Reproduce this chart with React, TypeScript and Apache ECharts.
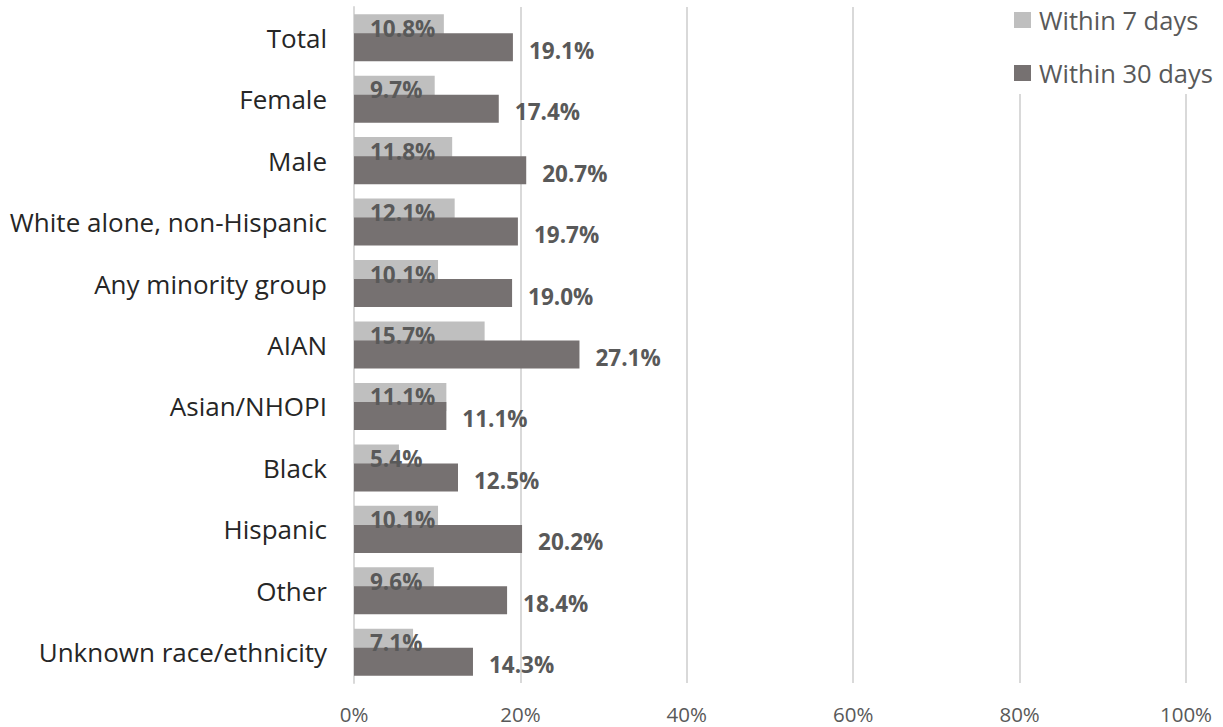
import React, { useEffect, useRef } from "react";
import * as echarts from "echarts";

const categories = [
  "Total",
  "Female",
  "Male",
  "White alone, non-Hispanic",
  "Any minority group",
  "AIAN",
  "Asian/NHOPI",
  "Black",
  "Hispanic",
  "Other",
  "Unknown race/ethnicity",
];
const within7 = [10.8, 9.7, 11.8, 12.1, 10.1, 15.7, 11.1, 5.4, 10.1, 9.6, 7.1];
const within30 = [19.1, 17.4, 20.7, 19.7, 19.0, 27.1, 11.1, 12.5, 20.2, 18.4, 14.3];
const seriesNames = ["Within 7 days", "Within 30 days"];
const xTicks = { min: 0, max: 100, interval: 20 };

const FONT = "'Open Sans', sans-serif";
const LIGHT = "#bfbfbf";
const DARK = "#767171";

const pct = (p: any) => Number(p.value).toFixed(1) + "%";

const valueLabel = {
  show: true,
  formatter: pct,
  color: "#595959",
  fontWeight: "bold",
  fontSize: 22.5,
  fontFamily: FONT,
};

export default function App() {
  const ref = useRef<HTMLDivElement>(null);
  useEffect(() => {
    if (!ref.current) return;
    const chart = echarts.init(ref.current, null, { renderer: "svg" });
    const barCommon = { type: "bar", barWidth: 28, barGap: "-32%" };
    chart.setOption({
      animation: false,
      textStyle: { fontFamily: FONT },
      legend: {
        orient: "vertical",
        left: 1004,
        top: 0,
        itemWidth: 17,
        itemHeight: 16,
        itemGap: 23,
        icon: "rect",
        backgroundColor: "#ffffff",
        padding: [5, 40, 6, 10],
        textStyle: {
          fontFamily: FONT,
          fontSize: 25.5,
          lineHeight: 30,
          color: "#595959",
          padding: [0, 0, 0, 3],
        },
        data: seriesNames,
      },
      grid: { left: 354, right: 37, top: 7, bottom: 44, containLabel: false },
      xAxis: [
        {
          type: "value",
          ...xTicks,
          axisLine: { show: false },
          axisTick: { show: false },
          splitLine: { show: true, lineStyle: { color: "#d9d9d9", width: 2 } },
          axisLabel: {
            formatter: "{value}%",
            color: "#595959",
            fontSize: 20.5,
            fontFamily: FONT,
            margin: 20,
          },
        },
        {
          type: "value",
          ...xTicks,
          show: false,
          splitLine: { show: false },
        },
      ],
      yAxis: [
        {
          type: "category",
          inverse: true,
          data: categories,
          axisLine: { show: true, lineStyle: { color: "#d9d9d9", width: 2 } },
          axisTick: { show: false },
          axisLabel: {
            color: "#262626",
            fontSize: 26,
            fontFamily: FONT,
            margin: 27,
          },
        },
        {
          type: "category",
          inverse: true,
          data: categories,
          show: false,
        },
      ],
      series: [
        {
          ...barCommon,
          name: seriesNames[0],
          data: within7,
          itemStyle: { color: LIGHT },
          z: 2,
        },
        {
          ...barCommon,
          name: seriesNames[1],
          data: within30,
          itemStyle: { color: DARK },
          z: 2,
          label: {
            ...valueLabel,
            position: "right",
            distance: 16,
            offset: [0, 3],
          },
        },
        // overlay copies on a hidden, identical axis pair: carry the light-bar labels above the dark bars
        {
          ...barCommon,
          name: "labels7",
          xAxisIndex: 1,
          yAxisIndex: 1,
          data: within7,
          itemStyle: { color: "rgba(0,0,0,0)" },
          z: 5,
          silent: true,
          label: {
            ...valueLabel,
            position: "insideLeft",
            distance: 16,
          },
        },
        {
          ...barCommon,
          name: "labels30",
          xAxisIndex: 1,
          yAxisIndex: 1,
          data: within30,
          itemStyle: { color: "rgba(0,0,0,0)" },
          z: 5,
          silent: true,
        },
      ],
    });
    return () => chart.dispose();
  }, []);
  return (
    <div
      ref={ref}
      style={{ position: "fixed", left: 0, top: 0, width: 1223, height: 727, background: "#fff" }}
    />
  );
}
